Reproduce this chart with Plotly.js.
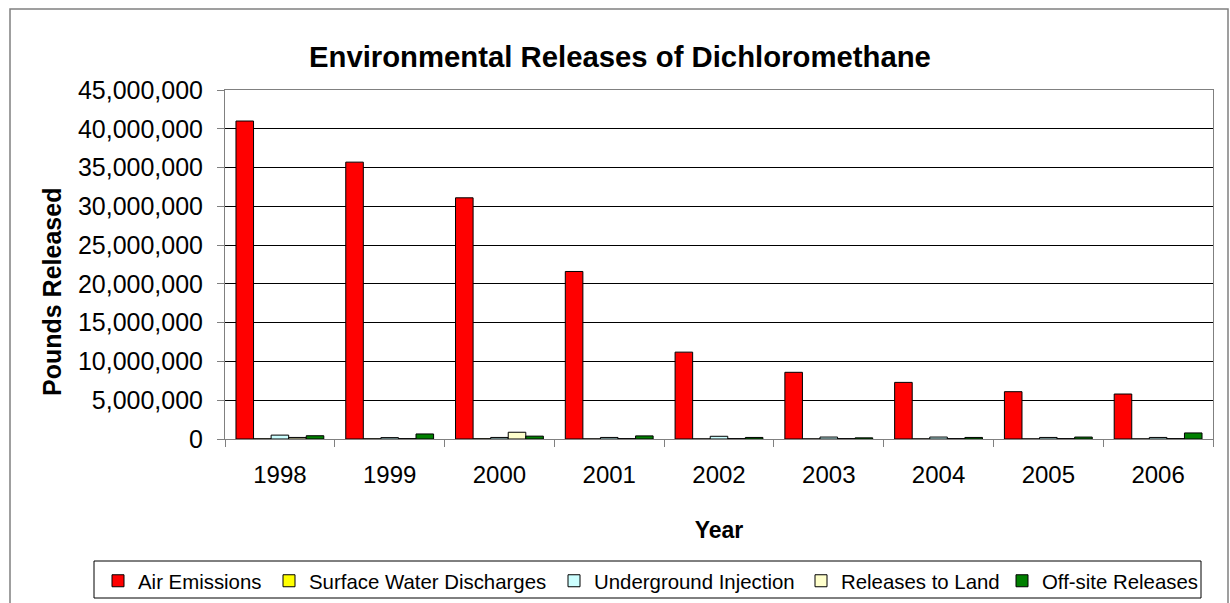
<!DOCTYPE html>
<html>
<head>
<meta charset="utf-8">
<script src="https://cdn.plot.ly/plotly-3.0.1.min.js"></script>
<style>
  html, body { margin: 0; padding: 0; background: #fff; }
  #chart { width: 1230px; height: 603px; }
</style>
</head>
<body>
<div id="chart"></div>
<script>
const years = ["1998", "1999", "2000", "2001", "2002", "2003", "2004", "2005", "2006"];
const airEmissions = [41000000, 35700000, 31100000, 21600000, 11200000, 8600000, 7300000, 6100000, 5800000];
const surfaceWater = [20000, 20000, 30000, 10000, 10000, 10000, 10000, 10000, 10000];
const undergroundInjection = [500000, 180000, 200000, 200000, 350000, 250000, 250000, 200000, 200000];
const releasesToLand = [200000, 50000, 870000, 50000, 50000, 50000, 50000, 50000, 50000];
const offsiteReleases = [420000, 650000, 370000, 400000, 200000, 150000, 200000, 250000, 780000];
const seriesNames = ["Air Emissions", "Surface Water Discharges", "Underground Injection", "Releases to Land", "Off-site Releases"];
const seriesColors = ["#FF0000", "#FFFF00", "#CCFFFF", "#FFFFCC", "#008000"];
const seriesValues = [airEmissions, surfaceWater, undergroundInjection, releasesToLand, offsiteReleases];

const FONT = "Liberation Sans, Arial, sans-serif";
const W = 1230, H = 603;
const PL = 225, PR = 1213, PT = 90, PB = 439;
const PW = PR - PL, PH = PB - PT;
const px = (x) => (x - PL) / PW;
const py = (y) => (PB - y) / PH;

// left pixel of each legend entry (one legend per series so they sit in a single row)
const legendLefts = [98, 269, 554, 801, 1002];
const legendIds = ["legend", "legend2", "legend3", "legend4", "legend5"];

const traces = seriesValues.map((vals, i) => ({
  type: "bar",
  name: seriesNames[i],
  x: years,
  y: vals,
  legend: legendIds[i],
  marker: { color: seriesColors[i], line: { color: "#000000", width: 1 } },
  hoverinfo: "x+y+name"
}));

const layout = {
  width: W,
  height: H,
  margin: { l: PL, r: W - PR, t: PT, b: H - PB, pad: 0, autoexpand: false },
  paper_bgcolor: "#ffffff",
  plot_bgcolor: "#ffffff",
  font: { family: FONT, color: "#000000", size: 24 },
  barmode: "group",
  bargap: 0.2,
  bargroupgap: 0,
  showlegend: true,
  title: {
    text: "<b>Environmental Releases of Dichloromethane</b>",
    font: { family: FONT, size: 29.3, color: "#000000" },
    xref: "container", x: 0.504, xanchor: "center",
    yref: "container", y: 1 - 57 / H, yanchor: "middle"
  },
  xaxis: {
    type: "category",
    showline: true, linecolor: "#808080", linewidth: 1, mirror: true,
    ticks: "outside", ticklen: 7, tickcolor: "#808080", tickson: "boundaries",
    ticklabelstandoff: 14,
    showgrid: false,
    tickfont: { family: FONT, size: 24, color: "#000000" },
    title: { text: "<b>Year</b>", font: { family: FONT, size: 23, color: "#000000" }, standoff: 35 },
    automargin: false
  },
  yaxis: {
    range: [0, 45000000],
    dtick: 5000000,
    tick0: 0,
    tickformat: ",d",
    showline: true, linecolor: "#808080", linewidth: 1, mirror: true,
    ticks: "outside", ticklen: 7, tickcolor: "#808080",
    ticklabelstandoff: 9,
    showgrid: true, gridcolor: "#000000", gridwidth: 1,
    zeroline: false,
    tickfont: { family: FONT, size: 25, color: "#000000" },
    automargin: false
  },
  annotations: [{
    text: "<b>Pounds Released</b>",
    textangle: -90,
    xref: "paper", yref: "paper",
    x: px(52), y: py(292),
    xanchor: "center", yanchor: "middle",
    showarrow: false,
    font: { family: FONT, size: 25, color: "#000000" }
  }],
  shapes: [
    {
      type: "rect", xref: "paper", yref: "paper",
      x0: px(10), x1: px(1228), y0: py(610), y1: py(9),
      line: { color: "#808080", width: 1.5 }, fillcolor: "rgba(0,0,0,0)",
      layer: "below"
    },
    {
      type: "rect", xref: "paper", yref: "paper",
      x0: px(94), x1: px(1201), y0: py(598), y1: py(561),
      line: { color: "#000000", width: 1 }, fillcolor: "rgba(0,0,0,0)",
      layer: "below"
    }
  ]
};

legendIds.forEach((id, i) => {
  layout[id] = {
    orientation: "h",
    xref: "container", x: legendLefts[i] / W, xanchor: "left",
    yref: "container", y: 1 - 561 / H, yanchor: "top",
    borderwidth: 0,
    bgcolor: "rgba(0,0,0,0)",
    font: { family: FONT, size: 20.4, color: "#000000" },
    itemwidth: 30
  };
});

Plotly.newPlot("chart", traces, layout, { displayModeBar: false, staticPlot: true });
</script>
</body>
</html>
